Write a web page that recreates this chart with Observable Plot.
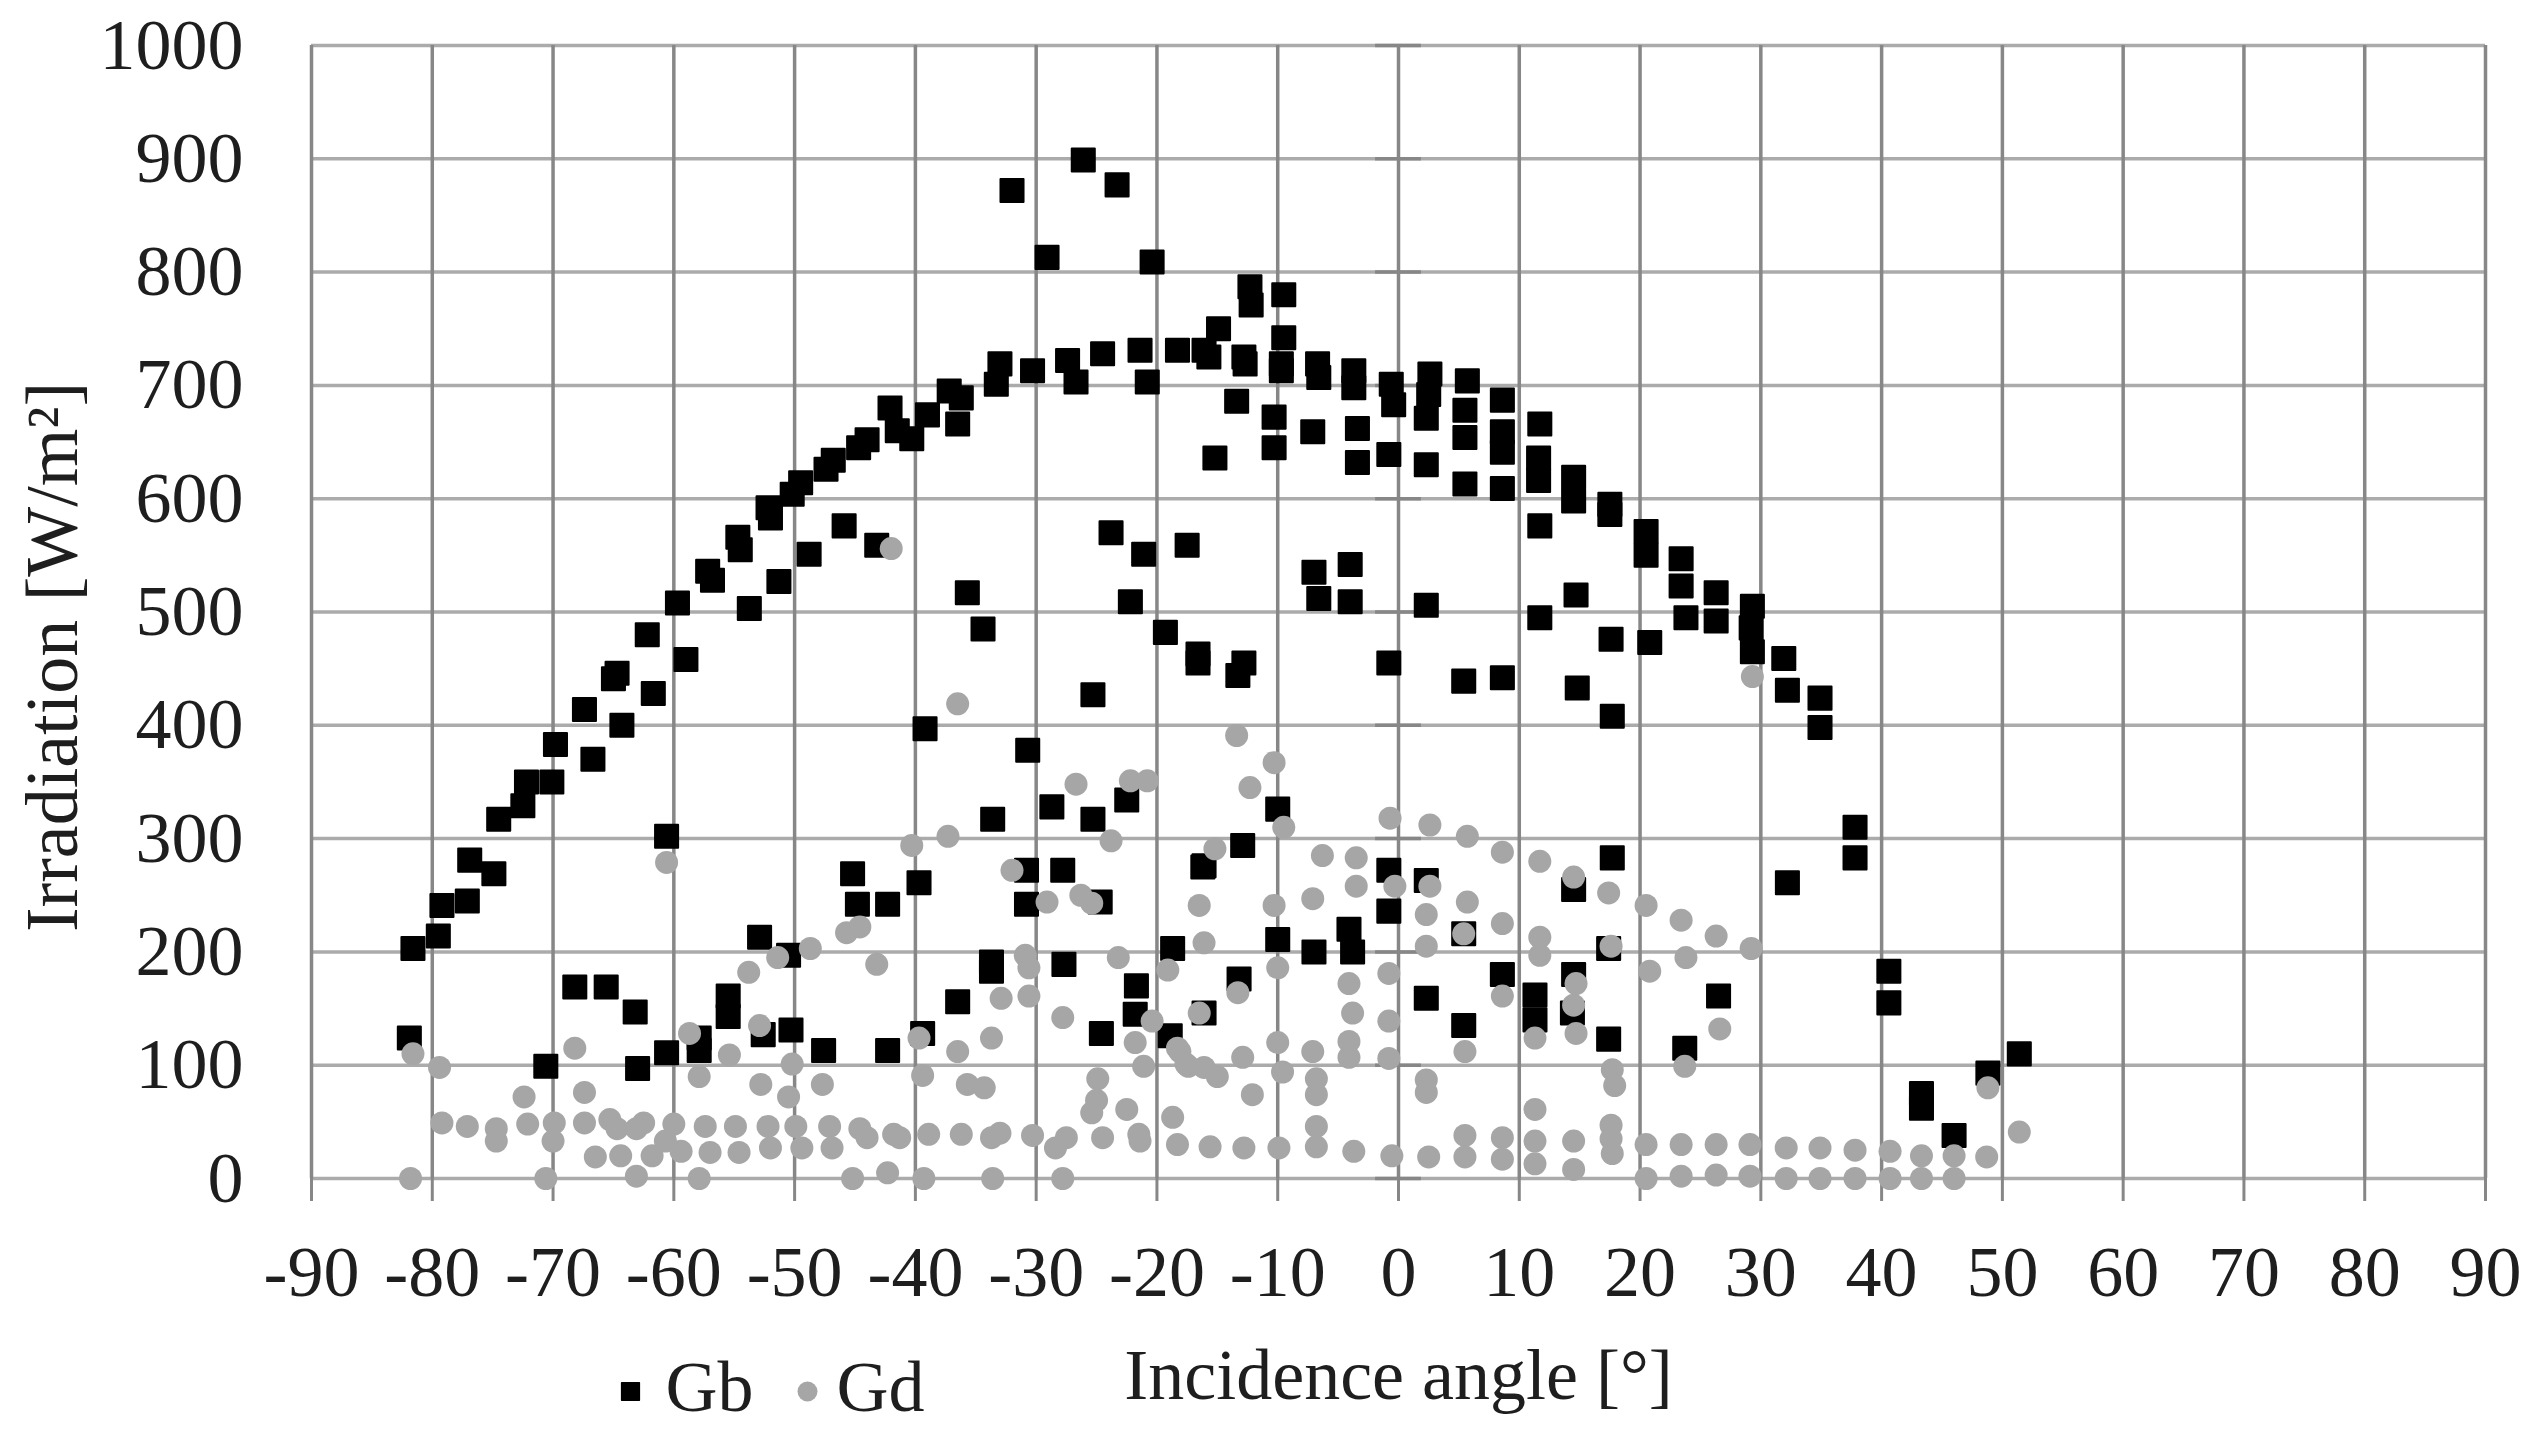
<!DOCTYPE html>
<html>
<head>
<meta charset="utf-8">
<script src="https://cdn.jsdelivr.net/npm/d3@7"></script>
<script src="https://cdn.jsdelivr.net/npm/@observablehq/plot@0.6"></script>
<style>
  html, body { margin: 0; padding: 0; background: #ffffff; }
  #chart { width: 2538px; height: 1430px; }
</style>
</head>
<body>
<div id="chart"></div>
<script>
// ---------------- data ----------------
const xTicks = [-90, -80, -70, -60, -50, -40, -30, -20, -10, 0, 10, 20, 30, 40, 50, 60, 70, 80, 90];
const yTicks = [0, 100, 200, 300, 400, 500, 600, 700, 800, 900, 1000];
const xLabel = "Incidence angle [°]";
const yLabel = "Irradiation [W/m²]";
const seriesNames = ["Gb", "Gd"];

// Gb: [incidence angle, irradiation]
const gbAngle = [
  -81.6,-79.5,-79.2,-77.1,-76.9,-74.9,-74.5,-72.5,-72.2,-70.1,-69.8,-67.4,-66.7,-64.7,-65.0,-64.3,-62.2,-61.7,-59.7,-59.0,
  -57.2,-56.8,-54.7,-54.5,-53.75,-52.2,-52.0,-51.3,
  -60.6,-68.2,-65.6,-63.2,-81.9,-70.6,-63.0,-60.6,-57.9,-57.9,-55.5,-55.5,-52.9,-52.6,
  -50.2,-49.5,-47.4,-46.8,-44.7,-44.0,-42.1,-41.5,-40.3,-39.0,-37.2,-36.2,-36.5,-33.3,-33.0,-30.3,-27.4,-26.7,-24.5,-21.4,-20.8,-18.3,-16.1,
  -26.1,-32.0,-23.3,-29.1,-20.4,
  -45.9,-48.8,-43.2,-35.7,-34.4,-23.8,-21.1,-22.2,-17.5,-19.3,-16.6,
  -25.3,-39.2,-30.7,-28.7,-25.3,-22.5,-33.6,-45.2,-39.7,-44.8,-42.3,-30.8,-27.8,-30.8,-24.7,-16.2,
  -50.5,-18.7,-33.7,-33.7,-27.7,-21.7,-21.8,-36.5,-24.6,-18.9,-50.3,-47.6,-42.3,-39.4,
  -12.3,-9.5,-12.2,-14.9,-15.7,-12.8,-12.7,-9.5,-9.7,-9.7,-6.7,-6.6,-3.7,-3.7,-0.6,-0.4,2.6,2.5,2.3,5.7,5.5,5.5,
  8.6,8.6,8.6,8.6,11.7,11.6,11.6,11.7,14.5,14.5,-13.4,-10.3,-10.3,-15.2,-7.1,-3.4,-3.4,-0.8,2.3,5.5,
  -7.0,-4.0,-6.6,-4.0,2.3,11.7,14.7,
  -16.6,-12.8,-13.3,-0.8,5.4,8.6,14.8,17.7,-10.0,-12.9,-16.1,-0.8,2.3,-0.8,17.7,14.5,-10.0,-7.0,-4.1,-3.8,5.4,17.4,
  -13.2,-16.1,2.3,8.6,5.4,11.3,11.3,14.5,14.4,17.4,
  17.5,17.5,20.5,20.5,23.4,23.4,26.3,26.3,23.8,29.3,29.2,29.3,31.9,17.6,20.8,32.2,34.9,34.9,37.8,37.8,32.2,
  40.6,40.6,26.5,23.7,51.4,48.8,43.3,43.3,46.0
];
const gbValue = [
  203,214,241,245,281,269,317,329,350,350,383,414,370,446,441,400,480,428,508,458,
  536,528,566,555,503,592,583,527,
  302,169,169,147,124,99,97,111,124,113,161,143,213,127,
  604,614,626,634,645,652,680,660,653,674,695,689,666,701,719,713,722,703,728,731,703,731,731,
  899,872,877,813,809,
  576,551,559,517,485,570,551,509,559,482,463,
  427,397,378,328,317,334,317,269,261,242,242,272,272,242,244,275,
  197,203,191,183,189,170,145,156,128,126,131,113,113,128,
  787,780,771,750,725,725,719,742,719,713,719,707,713,698,701,683,710,692,671,704,678,654,
  687,659,641,609,666,636,616,576,619,598,686,672,645,636,659,662,632,639,630,613,
  535,542,512,509,506,495,515,
  455,455,444,455,439,442,433,408,326,294,276,272,263,236,283,255,211,200,220,200,216,203,
  176,146,159,180,135,162,140,180,146,123,
  595,586,571,550,547,523,517,492,495,505,486,465,459,476,473,431,424,398,310,283,261,
  183,155,161,115,110,93,75,62,38
];

// Gd: [incidence angle, irradiation]
const gdAngle = [
  -81.6,-79.4,-81.8,-68.2,-72.4,-67.4,-79.2,-77.1,-74.7,-74.7,-72.1,-69.9,-70.0,-70.6,-67.4,-65.3,-64.7,-63.1,-62.5,-66.5,
  -64.4,-63.1,-61.8,-60.7,-60.0,-59.4,-57.9,-58.7,-57.9,-57.4,-57.0,-55.4,-54.9,-54.6,-53.8,-52.9,-52.8,-52.2,-52.0,-51.4,-60.6,
  -42.0,29.3,
  -36.5,-37.3,-40.3,-26.7,-22.2,-20.8,-23.8,-32.0,-29.1,-26.3,-25.4,-45.7,-44.6,-48.7,-43.2,-30.9,-30.6,-32.9,-30.6,-27.8,
  -23.2,-19.1,-20.4,-33.7,-36.5,-39.7,-39.4,-50.2,-47.7,-50.5,-35.7,-34.3,-21.8,-21.1,-18.3,-17.4,-24.9,-25.0,-25.4,-22.5,-18.7,
  -49.9,-49.4,-47.1,-46.9,-44.6,-44.0,-41.8,-41.3,-38.9,-36.2,-33.7,-33.0,-30.3,-28.4,-27.5,-24.5,-21.5,-21.4,-18.3,
  -45.2,-42.3,-39.3,-33.6,-27.8,
  -13.4,-10.3,-12.3,-9.5,-15.2,-0.7,2.6,5.7,8.6,11.7,14.5,17.4,-6.3,-3.5,-3.5,-0.3,2.6,2.3,5.7,8.6,11.7,11.7,
  -16.5,-10.3,-7.1,-16.1,2.3,5.4,-10.0,-4.1,-3.8,-0.8,-0.8,8.6,14.7,14.5,14.7,11.3,-13.3,-16.5,-18.1,-12.9,-10.0,-7.1,
  -4.1,-4.1,-0.8,5.5,-17.6,-16.1,-15.0,-12.1,-9.6,-6.8,-6.8,2.3,2.3,11.3,17.7,17.9,
  -15.6,-12.8,-9.9,-6.8,-6.8,-3.7,-0.55,2.5,5.5,5.5,8.6,8.6,11.3,11.3,14.5,14.5,17.6,17.6,17.7,
  20.5,23.4,26.3,29.2,23.8,20.8,17.6,26.6,23.7,48.8,51.4,48.7,46.0,43.3,
  20.5,23.4,26.3,29.1,32.1,34.9,37.8,40.7,
  20.5,23.4,26.3,29.1,32.1,34.9,37.8,40.7,43.3,46.0
];
const gdValue = [
  110,98,0,115,72,76,49,46,44,33,48,49,33,0,49,52,44,44,49,19,
  20,2,20,33,48,24,0,128,90,46,23,109,46,23,182,135,83,46,27,195,279,
  556,443,
  419,302,294,348,351,351,298,272,244,250,243,217,222,203,189,197,186,159,161,142,
  195,184,139,124,112,124,91,101,83,72,83,80,120,99,115,99,88,69,58,61,54,
  46,27,46,27,44,36,39,36,39,39,36,40,38,27,36,36,39,33,30,
  0,5,0,0,0,
  391,367,345,310,291,318,312,302,288,280,266,252,285,283,258,258,258,233,244,225,213,197,
  241,241,247,208,205,216,186,172,146,181,139,161,172,153,128,124,164,146,112,107,120,112,
  121,107,106,112,101,98,90,74,94,88,74,87,76,61,96,82,
  28,27,27,46,28,24,20,19,38,19,36,17,33,13,33,8,47,35,22,
  241,228,214,203,195,183,205,132,99,80,41,19,20,20,
  30,30,30,30,27,27,25,24,
  0,2,3,2,0,0,0,0,0,0
];

// ---------------- build tables ----------------
const gb = gbAngle.map((a, i) => ({angle: a, value: gbValue[i], series: seriesNames[0]}));
const gd = gdAngle.map((a, i) => ({angle: a, value: gdValue[i], series: seriesNames[1]}));

const FONT = "'Liberation Serif', 'DejaVu Serif', serif";
const GRIDV = "#878787";
const GRIDH = "#ababab";
const TEXT = "#1e1e1e";
const GB_COLOR = "#000000";
const GD_COLOR = "#a6a6a6";

const chart = Plot.plot({
  width: 2538,
  height: 1430,
  marginLeft: 311,
  marginRight: 53,
  marginTop: 45,
  marginBottom: 252,
  style: {fontFamily: FONT, fontSize: "72px", background: "#ffffff", color: TEXT},
  x: {domain: [-90, 90]},
  y: {domain: [0, 1000]},
  marks: [
    Plot.gridY(yTicks, {stroke: GRIDH, strokeOpacity: 1, strokeWidth: 3.5}),
    Plot.gridX(xTicks, {stroke: GRIDV, strokeOpacity: 1, strokeWidth: 3.5}),
    // cross tick marks of the value axis, which sits at angle 0
    Plot.ruleY(yTicks, {x1: -1.9, x2: 1.9, stroke: GRIDV, strokeWidth: 3.5}),
    Plot.axisX(xTicks, {
      tickSize: 23, tickPadding: 43, stroke: GRIDV, strokeWidth: 3,
      fill: TEXT, tickFormat: d => String(d), label: null
    }),
    Plot.axisY(yTicks, {
      tickSize: 0, tickPadding: 68, fill: TEXT, tickFormat: d => String(d), label: null
    }),
    Plot.dot(gb, {
      x: "angle", y: "value", symbol: "square", r: 13,
      fill: GB_COLOR, stroke: GB_COLOR, strokeWidth: 2, strokeLinejoin: "round"
    }),
    Plot.dot(gd, {x: "angle", y: "value", symbol: "circle", r: 11.5, fill: GD_COLOR}),
    // axis titles
    Plot.text([xLabel], {
      text: d => d, frameAnchor: "bottom", dy: 220, fontSize: 72, fill: TEXT
    }),
    Plot.text([yLabel], {
      text: d => d, frameAnchor: "left", textAnchor: "middle", rotate: -90,
      dx: -258, dy: 45, fontSize: 74, fill: TEXT
    }),
    // legend
    Plot.dot([seriesNames[0]], {
      frameAnchor: "bottom-left", dx: 319, dy: 213, symbol: "square", r: 10,
      fill: GB_COLOR, stroke: GB_COLOR, strokeWidth: 1.5, strokeLinejoin: "round"
    }),
    Plot.text([seriesNames[0]], {
      text: d => d, frameAnchor: "bottom-left", dx: 354, dy: 232, textAnchor: "start", fontSize: 72, fill: TEXT
    }),
    Plot.dot([seriesNames[1]], {
      frameAnchor: "bottom-left", dx: 496, dy: 213, symbol: "circle", r: 10, fill: GD_COLOR
    }),
    Plot.text([seriesNames[1]], {
      text: d => d, frameAnchor: "bottom-left", dx: 525, dy: 232, textAnchor: "start", fontSize: 72, fill: TEXT
    })
  ]
});

document.getElementById("chart").appendChild(chart);
</script>
</body>
</html>
